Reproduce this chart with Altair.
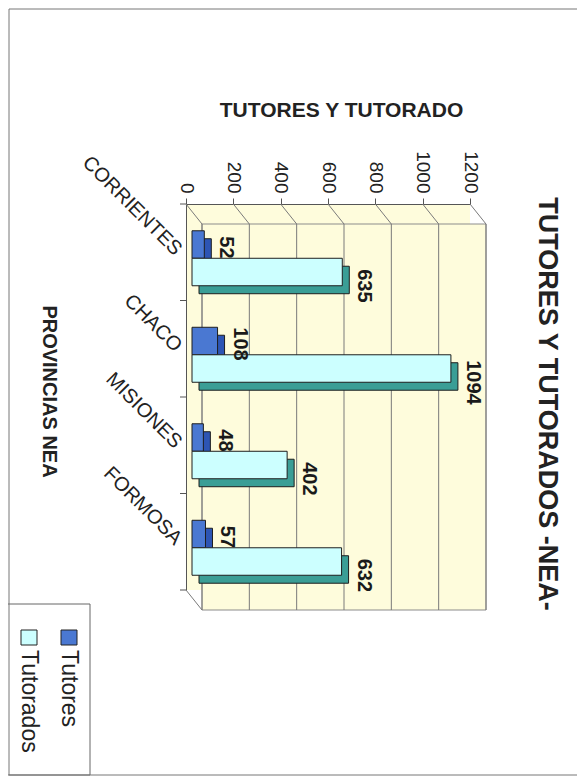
import altair as alt
import pandas as pd

TITLE = "TUTORES Y TUTORADOS -NEA-"
PROVINCIAS = ["CORRIENTES", "CHACO", "MISIONES", "FORMOSA"]
TUTORES = [52, 108, 48, 57]
TUTORADOS = [635, 1094, 402, 632]
SERIES = ["Tutores", "Tutorados"]
FRONT_COLORS = ["#4A78D2", "#CCFFFF"]
SIDE_COLORS = ["#2D55B4", "#3A9E96"]
TICKS = [0, 200, 400, 600, 800, 1000, 1200]

rows = []
for i, p in enumerate(PROVINCIAS):
    rows.append({"prov": p, "serie": SERIES[0], "valor": TUTORES[i]})
    rows.append({"prov": p, "serie": SERIES[1], "valor": TUTORADOS[i]})
df = pd.DataFrame(rows)
ticks_df = pd.DataFrame({"t": TICKS})
one = alt.Data(values=[{"k": 0}])

FONT = "Liberation Sans"
W, H = 284, 386
BAND = H / len(PROVINCIAS)

xscale = alt.Scale(domain=[0, 1200], nice=False, zero=True)
yscale = alt.Scale(domain=PROVINCIAS, paddingInner=0, paddingOuter=0)
off_front = alt.Scale(domain=SERIES, paddingInner=0, paddingOuter=0.755, align=0.645)
off_back = alt.Scale(domain=SERIES, paddingInner=0, paddingOuter=0.755, align=0.837)

x_axis = alt.Axis(
    orient="top", values=TICKS, format="d", labelAngle=90, labelAlign="right",
    labelBaseline="middle", labelFontSize=19, labelFont=FONT, labelColor="#222",
    tickSize=6, tickColor="#555", domainColor="#555", labelPadding=5, grid=False,
    title="TUTORES Y TUTORADO", titleFont=FONT, titleFontSize=21, titleFontWeight="bold",
    titleColor="#222", titleX=155, titleY=-94, titleAlign="center", titleBaseline="middle",
    titleAngle=0,
)
y_axis = alt.Axis(
    orient="left", labelAngle=45, labelAlign="right", labelBaseline="middle",
    labelFontSize=20, labelFont=FONT, labelColor="#222", ticks=False, domainColor="#555",
    labelPadding=8, title="PROVINCIAS NEA", titleAngle=90, titleX=-138, titleY=187,
    titleFont=FONT, titleFontSize=20, titleFontWeight="bold", titleColor="#222",
    titleAlign="center", titleBaseline="middle",
)

# back wall of the 3D box
wall = alt.Chart(one).mark_rect(
    fill="#FEFCDC", stroke="#8C8C8C", strokeWidth=1, xOffset=16, x2Offset=16
).encode(
    x=alt.X(datum=0, scale=xscale, axis=x_axis),
    x2=alt.datum(1200),
    y=alt.value(20), y2=alt.value(H + 20),
)

grid = alt.Chart(ticks_df).mark_rule(color="#7A7A7A", strokeWidth=1, xOffset=16).encode(
    x=alt.X("t:Q", scale=xscale),
    y=alt.value(20), y2=alt.value(H + 20),
)
diag = alt.Chart(ticks_df).mark_rule(color="#7A7A7A", strokeWidth=1, x2Offset=16).encode(
    x=alt.X("t:Q", scale=xscale), x2="t:Q",
    y=alt.value(0), y2=alt.value(20),
)
diag_bottom = alt.Chart(one).mark_rule(color="#7A7A7A", strokeWidth=1, x2Offset=16).encode(
    x=alt.X(datum=0, scale=xscale), x2=alt.datum(0),
    y=alt.value(H), y2=alt.value(H + 20),
)

cat_ticks = alt.Chart(df[df.serie == SERIES[0]]).mark_rule(
    color="#555", yOffset=-BAND / 2
).encode(
    y=alt.Y("prov:N", scale=yscale, sort=PROVINCIAS, axis=y_axis),
    x=alt.value(-6), x2=alt.value(0),
)
cat_tick_end = alt.Chart(one).mark_rule(color="#555").encode(
    y=alt.value(H), x=alt.value(-6), x2=alt.value(0),
)

depth = alt.Chart(df).mark_bar(
    xOffset=13, x2Offset=13, stroke="#1E1E1E", strokeWidth=1
).encode(
    x=alt.X("valor:Q", scale=xscale),
    y=alt.Y("prov:N", scale=yscale, sort=PROVINCIAS),
    yOffset=alt.YOffset("serie:N", scale=off_back, sort=SERIES),
    fill=alt.Fill("serie:N", scale=alt.Scale(domain=SERIES, range=SIDE_COLORS), legend=None),
)

front = alt.Chart(df).mark_bar(
    xOffset=6, x2Offset=6, stroke="#1E1E1E", strokeWidth=1
).encode(
    x=alt.X("valor:Q", scale=xscale),
    y=alt.Y("prov:N", scale=yscale, sort=PROVINCIAS),
    yOffset=alt.YOffset("serie:N", scale=off_front, sort=SERIES),
    fill=alt.Fill("serie:N", scale=alt.Scale(domain=SERIES, range=FRONT_COLORS), legend=None),
)

labels = alt.Chart(df).mark_text(
    angle=90, align="center", baseline="middle", font=FONT, fontSize=20,
    fontWeight="bold", color="#1A1A1A", xOffset=28, dx=6,
).encode(
    x=alt.X("valor:Q", scale=xscale),
    y=alt.Y("prov:N", scale=yscale, sort=PROVINCIAS),
    yOffset=alt.YOffset("serie:N", scale=off_front, sort=SERIES),
    text="valor:Q",
)

# chart title, rotated like the whole figure
title = alt.Chart(one).mark_text(
    angle=90, align="center", baseline="middle", font=FONT, fontSize=27,
    fontWeight="bold", color="#222", text=TITLE,
).encode(x=alt.value(361), y=alt.value(200))

# legend (rotated like the rest of the figure)
legend_layers = [
    alt.Chart(one).mark_rect(fill="white", stroke="#666", strokeWidth=1).encode(
        x=alt.value(-181), x2=alt.value(-96), y=alt.value(400), y2=alt.value(571)
    )
]
LEG_X = [-117, -157]
for i, s in enumerate(SERIES):
    legend_layers.append(
        alt.Chart(one).mark_rect(fill=FRONT_COLORS[i], stroke="#222", strokeWidth=1).encode(
            x=alt.value(LEG_X[i] - 8), x2=alt.value(LEG_X[i] + 8),
            y=alt.value(426), y2=alt.value(441),
        )
    )
    legend_layers.append(
        alt.Chart(one).mark_text(
            angle=90, align="left", baseline="middle", font=FONT, fontSize=23, color="#222",
            text=s,
        ).encode(x=alt.value(LEG_X[i]), y=alt.value(446))
    )

border = alt.Chart(one).mark_rect(fill=None, stroke="#777", strokeWidth=1).encode(
    x=alt.value(-177), x2=alt.value(392), y=alt.value(-195), y2=alt.value(571)
)

chart = alt.layer(
    wall, grid, diag, diag_bottom, cat_ticks, cat_tick_end, depth, front, labels,
    title, *legend_layers, border,
).resolve_scale(
    yOffset="independent", fill="independent"
).properties(
    width=W, height=H,
    autosize=alt.AutoSizeParams(type="none"),
    padding={"left": 178, "top": 196, "right": 107, "bottom": 186},
).configure_view(
    fill="#FEFCDC", stroke=None
)

chart.save("out.html", embed_options={"renderer": "svg", "actions": False})
